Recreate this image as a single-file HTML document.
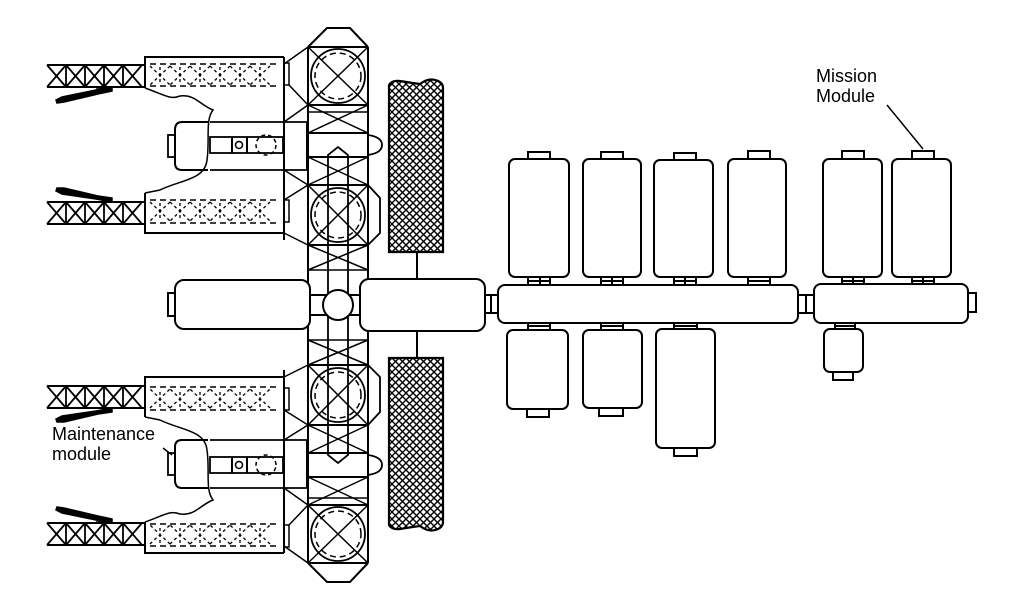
<!DOCTYPE html>
<html><head><meta charset="utf-8"><style>
html,body{margin:0;padding:0;background:#fff;}
svg{display:block;}
text{font-family:"Liberation Sans",sans-serif;font-size:18px;fill:#000;}
</style></head><body>
<svg width="1024" height="611" viewBox="0 0 1024 611" xmlns="http://www.w3.org/2000/svg">
<defs>
<pattern id="xh" width="7" height="7" patternUnits="userSpaceOnUse">
<path d="M0,0L7,7M7,0L0,7" stroke="#000" stroke-width="1.4"/>
</pattern>
<g id="half" fill="none" stroke="#000" stroke-width="2">
  <!-- truss -->
  <line x1="47" y1="65" x2="145" y2="65"/><line x1="47" y1="87" x2="145" y2="87"/>
  <path d="M47,65L66,87M66,65L47,87M66,65L85,87M85,65L66,87M85,65L104,87M104,65L85,87M104,65L123,87M123,65L104,87M123,65L142,87M142,65L123,87M66,65V87M85,65V87M104,65V87M123,65V87" stroke-width="1.8"/>
  <!-- arm -->
  <path d="M56,100L62,97L96,90L112,87V91L98,94L64,102L57,103Z" stroke-width="1.5" fill="#000"/>
  <line x1="96" y1="88" x2="112" y2="88" stroke-width="1.5"/>
  <!-- truss box -->
  <path d="M145,88V57H284"/>
  <line x1="150" y1="64" x2="280" y2="64" stroke-dasharray="6,4" stroke-width="1.5"/>
  <line x1="150" y1="86" x2="280" y2="86" stroke-dasharray="6,4" stroke-width="1.5"/>
  <path d="M150,66L170,85M170,66L150,85M170,66L190,85M190,66L170,85M190,66L210,85M210,66L190,85M210,66L230,85M230,66L210,85M230,66L250,85M250,66L230,85M250,66L270,85M270,66L250,85M160,67V84M180,67V84M200,67V84M220,67V84M240,67V84M260,67V84" stroke-dasharray="3,3" stroke-width="1.3"/>
  <rect x="284" y="63" width="5" height="22" stroke-width="1.5"/>
  <line x1="284" y1="57" x2="284" y2="240"/>
  <!-- wavy -->
  <path d="M145,88C165,95 170,100 180,96C195,94 200,105 213,110C205,120 210,140 207,160C205,180 180,180 160,190L145,193" stroke-width="1.5"/>
  <!-- maintenance module -->
  <path d="M208,122H182Q175,122 175,130V163Q175,170 182,170H208" />
  <path d="M210,122H307M210,170H307" stroke-width="1.8"/>
  <rect x="168" y="135" width="7" height="22" stroke-width="1.8"/>
  <rect x="210" y="137" width="73" height="16" stroke-width="1.8"/>
  <line x1="232" y1="137" x2="232" y2="153"/><line x1="247" y1="137" x2="247" y2="153"/>
  <circle cx="239" cy="145" r="3.5" stroke-width="1.5"/>
  <circle cx="266" cy="145" r="10" stroke-dasharray="4,3" stroke-width="1.5"/>
  <line x1="307" y1="122" x2="307" y2="170"/>
  <!-- column -->
  <path d="M308,47L327,28H350L368,47"/>
  <line x1="308" y1="47" x2="308" y2="305"/><line x1="368" y1="47" x2="368" y2="280"/>
  <line x1="308" y1="47" x2="368" y2="47"/><line x1="308" y1="105" x2="368" y2="105"/>
  <path d="M308,47L368,105M368,47L308,105" stroke-width="1.5"/>
  <circle cx="338" cy="76" r="27" stroke-width="1.8"/>
  <circle cx="338" cy="76" r="23" stroke-dasharray="6,4" stroke-width="1.5"/>
  <path d="M284,64L308,47M289,85L308,105M308,105L368,133M368,105L308,133" stroke-width="1.5"/>
  <line x1="308" y1="112" x2="368" y2="112" stroke-width="1.5"/>
  <line x1="308" y1="133" x2="368" y2="133"/>
  <line x1="308" y1="157" x2="368" y2="157"/>
  <path d="M368,135Q382,137 382,145Q382,153 368,155" stroke-width="1.8"/>
  <path d="M284,122L308,105M284,170L308,185" stroke-width="1.5"/>
  <!-- inner bar with chevron -->
  <path d="M328,305V155L338,147L348,155V305" stroke-width="1.8"/>
  <path d="M308,157L368,185M368,157L308,185" stroke-width="1.5"/>
  <line x1="308" y1="185" x2="368" y2="185"/><line x1="308" y1="245" x2="368" y2="245"/>
  <path d="M308,185L368,245M368,185L308,245" stroke-width="1.5"/>
  <circle cx="338" cy="215" r="27" stroke-width="1.8"/>
  <circle cx="338" cy="215" r="23" stroke-dasharray="6,4" stroke-width="1.5"/>
  <path d="M368,185L380,198V233L368,245" stroke-width="1.8"/>
  <path d="M284,200L308,185M284,233L308,245" stroke-width="1.5"/>
  <path d="M308,245L368,270M368,245L308,270" stroke-width="1.5"/>
  <line x1="308" y1="270" x2="368" y2="270" stroke-width="1.5"/>
  <!-- lower truss box -->
  <path d="M145,193V233H284"/>
  <line x1="150" y1="200" x2="280" y2="200" stroke-dasharray="6,4" stroke-width="1.5"/>
  <line x1="150" y1="223" x2="280" y2="223" stroke-dasharray="6,4" stroke-width="1.5"/>
  <path d="M150,202L170,221M170,202L150,221M170,202L190,221M190,202L170,221M190,202L210,221M210,202L190,221M210,202L230,221M230,202L210,221M230,202L250,221M250,202L230,221M250,202L270,221M270,202L250,221M160,203V220M180,203V220M200,203V220M220,203V220M240,203V220M260,203V220" stroke-dasharray="3,3" stroke-width="1.3"/>
  <rect x="284" y="200" width="5" height="22" stroke-width="1.5"/>
  <line x1="47" y1="202" x2="145" y2="202"/><line x1="47" y1="224" x2="145" y2="224"/>
  <path d="M47,202L66,224M66,202L47,224M66,202L85,224M85,202L66,224M85,202L104,224M104,202L85,224M104,202L123,224M123,202L104,224M123,202L142,224M142,202L123,224M66,202V224M85,202V224M104,202V224M123,202V224" stroke-width="1.8"/>
  <path d="M56,191L62,194L96,199L112,202V198L98,196L64,188L57,188Z" stroke-width="1.5" fill="#000"/>
  <line x1="96" y1="202" x2="112" y2="202" stroke-width="1.5"/>
  <!-- cross-hatched panel -->
  <path d="M389,252V85Q392,80 400,81Q412,83 420,84Q428,78 435,80Q443,82 443,88V252Z" fill="url(#xh)" stroke-width="2.2"/>
  <line x1="417" y1="252" x2="417" y2="280"/>
</g>
</defs>
<use href="#half"/>
<use href="#half" transform="translate(0,610) scale(1,-1)"/>
<g fill="none" stroke="#000" stroke-width="2">
  <rect x="175" y="280" width="135" height="49" rx="9" fill="#fff"/>
  <rect x="168" y="293" width="7" height="23"/>
  <rect x="310" y="295" width="18" height="20" fill="#fff"/>
  <rect x="348" y="295" width="12" height="20" fill="#fff"/>
  <circle cx="338" cy="305" r="15" fill="#fff"/>
  <rect x="360" y="279" width="125" height="52" rx="9" fill="#fff"/>
  <rect x="485" y="295" width="13" height="18"/>
  <line x1="491" y1="295" x2="491" y2="313"/>
  <rect x="498" y="285" width="300" height="38" rx="7"/>
  <rect x="798" y="295" width="16" height="18"/><line x1="806" y1="295" x2="806" y2="313"/>
  <rect x="814" y="284" width="154" height="39" rx="7"/>
  <rect x="968" y="293" width="8" height="19"/>
  <g>
    <rect x="509" y="159" width="60" height="118" rx="6"/><rect x="528" y="152" width="22" height="7"/><path d="M528,277V285M540,277V285M550,277V285M528,281H550"/>
    <rect x="583" y="159" width="58" height="118" rx="6"/><rect x="601" y="152" width="22" height="7"/><path d="M601,277V285M612,277V285M623,277V285M601,281H623"/>
    <rect x="654" y="160" width="59" height="117" rx="6"/><rect x="674" y="153" width="22" height="7"/><path d="M674,277V285M685,277V285M696,277V285M674,281H696"/>
    <rect x="728" y="159" width="58" height="118" rx="6"/><rect x="748" y="151" width="22" height="8"/><path d="M748,277V285M770,277V285M748,281H770"/>
    <rect x="823" y="159" width="59" height="118" rx="6"/><rect x="842" y="151" width="22" height="8"/><path d="M842,277V284M853,277V284M864,277V284M842,281H864"/>
    <rect x="892" y="159" width="59" height="118" rx="6"/><rect x="912" y="151" width="22" height="8"/><path d="M912,277V284M923,277V284M934,277V284M912,281H934"/>
  </g>
  <rect x="507" y="330" width="61" height="79" rx="6"/><path d="M528,323V330M550,323V330M528,326H550"/><rect x="527" y="409" width="22" height="8"/>
  <rect x="583" y="330" width="59" height="78" rx="6"/><path d="M601,323V330M623,323V330M601,326H623"/><rect x="599" y="408" width="24" height="8"/>
  <rect x="656" y="329" width="59" height="119" rx="6"/><path d="M674,323V329M697,323V329M674,326H697"/><rect x="674" y="448" width="23" height="8"/>
  <rect x="824" y="329" width="39" height="43" rx="6"/><path d="M835,323V329M855,323V329M835,326H855"/><rect x="833" y="372" width="20" height="8"/>
  <line x1="887" y1="105" x2="923" y2="149" stroke-width="1.5"/>
  <line x1="163" y1="448" x2="172" y2="455" stroke-width="1.5"/>
</g>
<text x="816" y="82">Mission</text>
<text x="816" y="102">Module</text>
<text x="52" y="440">Maintenance</text>
<text x="52" y="460">module</text>
</svg>
</body></html>
